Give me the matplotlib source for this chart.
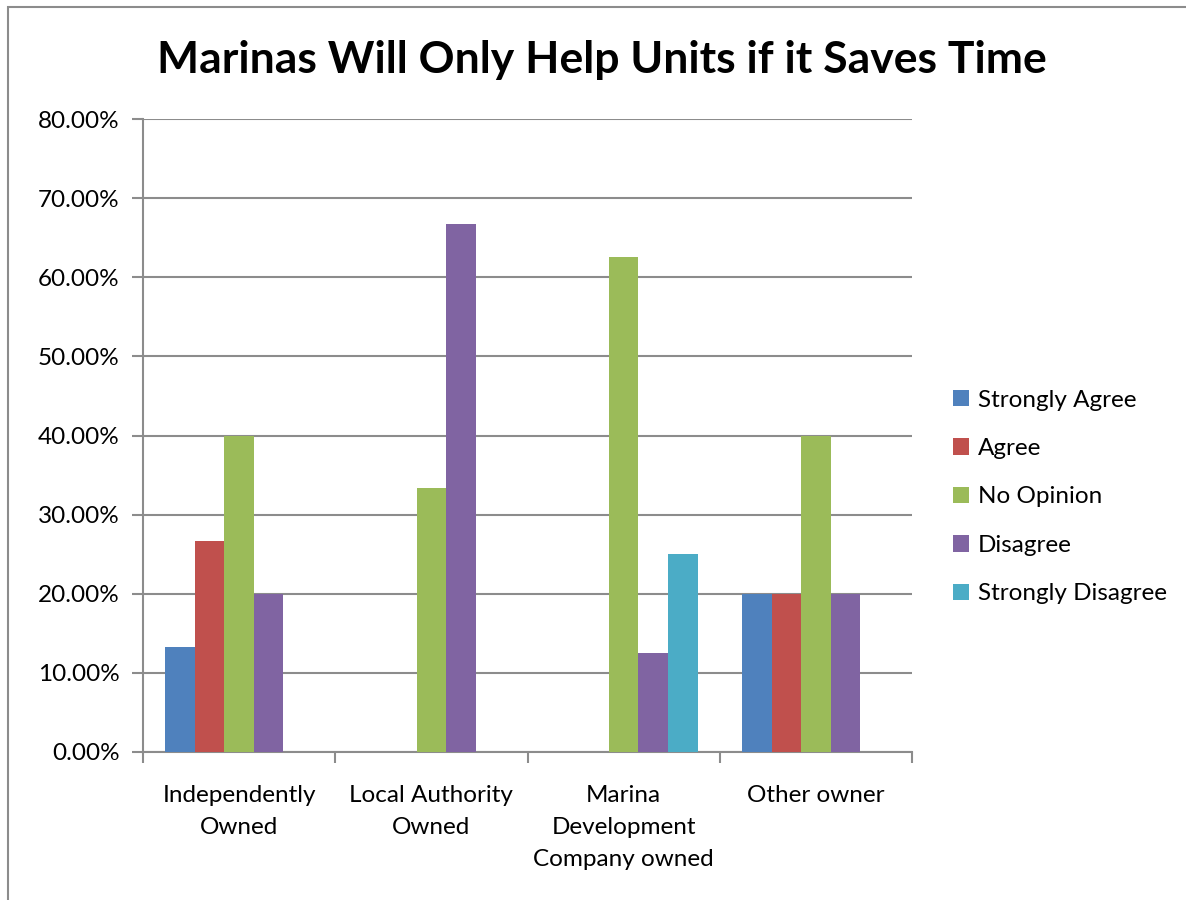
import numpy as np
import matplotlib.pyplot as plt
from matplotlib.patches import Rectangle
from matplotlib.ticker import FuncFormatter

plt.rcParams['font.family'] = ['Lato', 'DejaVu Sans']

# survey responses by marina ownership type (fractions)
owners = ["Independently\nOwned", "Local Authority\nOwned",
          "Marina\nDevelopment\nCompany owned", "Other owner"]
responses = ["Strongly Agree", "Agree", "No Opinion", "Disagree", "Strongly Disagree"]
strongly_agree = [0.1333, 0.0, 0.0, 0.20]
agree = [0.2667, 0.0, 0.0, 0.20]
no_opinion = [0.40, 0.3333, 0.625, 0.40]
disagree = [0.20, 0.6667, 0.125, 0.20]
strongly_disagree = [0.0, 0.0, 0.25, 0.0]
series = [strongly_agree, agree, no_opinion, disagree, strongly_disagree]
colors = ["#4F81BD", "#C0504D", "#9BBB59", "#8064A2", "#4BACC6"]

W, H = 1186, 900
fig = plt.figure(figsize=(W / 100, H / 100), dpi=100)

# outer chart frame (runs off the right and bottom edges)
fig.patches.append(Rectangle((8 / W, -0.1), 1.2, 1 - 7 / H + 0.1,
                             transform=fig.transFigure, fill=False,
                             edgecolor="#8c8c8c", linewidth=1.5))

left, right, top, bottom = 143, 912, 119, 752
ax = fig.add_axes([left / W, 1 - bottom / H, (right - left) / W, (bottom - top) / H])

n = len(series)
bw = 1.0 / (n + 1.5)
x = np.arange(len(owners))
for i, (vals, col, name) in enumerate(zip(series, colors, responses)):
    ax.bar(x + (i - (n - 1) / 2) * bw, vals, width=bw, color=col,
           label=name, zorder=3)

ax.set_xlim(-0.5, len(owners) - 0.5)
ax.set_ylim(0, 0.8)
ax.set_yticks(np.arange(0, 0.81, 0.1))
ax.yaxis.set_major_formatter(FuncFormatter(lambda v, p: f"{v * 100:.2f}%"))
ax.yaxis.grid(True, color="#8c8c8c", linewidth=1.5, zorder=0)

ax.set_xticks(np.arange(-0.5, len(owners), 1.0))
ax.set_xticklabels([])
ax.set_xticks(x, minor=True)
ax.set_xticklabels(owners, minor=True, fontsize=17.5, linespacing=1.63)
ax.tick_params(axis="x", which="minor", length=0, pad=24)
ax.tick_params(axis="x", which="major", length=8, width=1.5, color="#8c8c8c")
ax.tick_params(axis="y", length=8, width=1.5, color="#8c8c8c", labelsize=17.5, pad=9)

for s in ["top", "right"]:
    ax.spines[s].set_visible(False)
for s in ["left", "bottom"]:
    ax.spines[s].set_color("#8c8c8c")
    ax.spines[s].set_linewidth(1.5)

fig.text(602 / W, 1 - 60 / H, "Marinas Will Only Help Units if it Saves Time",
         ha="center", va="center", fontsize=32, fontweight="bold")

ax.legend(loc="center left", bbox_to_anchor=(943 / W, 1 - 497 / H),
          bbox_transform=fig.transFigure, frameon=False, fontsize=17.5,
          handlelength=0.65, handleheight=0.65, handletextpad=0.4,
          labelspacing=1.13, borderaxespad=0)

fig.savefig("out.png", dpi=100)
